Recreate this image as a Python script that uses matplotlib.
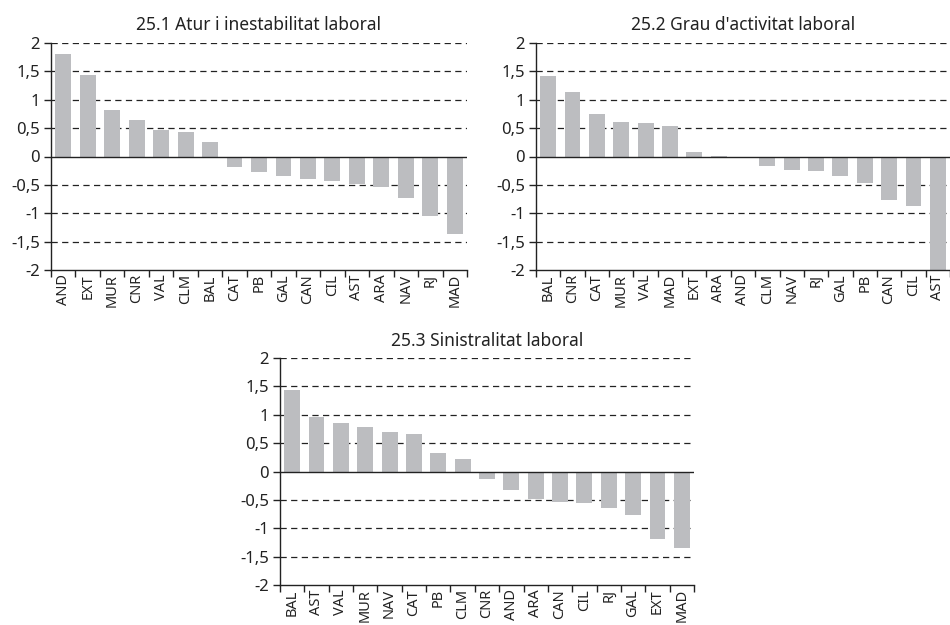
import matplotlib
matplotlib.use("Agg")
import matplotlib.pyplot as plt
import numpy as np

plt.rcParams['font.family'] = ['Noto Sans', 'DejaVu Sans']

title1 = "25.1 Atur i inestabilitat laboral"
cats1 = ["AND", "EXT", "MUR", "CNR", "VAL", "CLM", "BAL", "CAT", "PB", "GAL",
         "CAN", "CIL", "AST", "ARA", "NAV", "RJ", "MAD"]
vals1 = [1.81, 1.44, 0.82, 0.65, 0.47, 0.44, 0.26, -0.18, -0.28, -0.35,
         -0.39, -0.44, -0.48, -0.53, -0.74, -1.05, -1.36]

title2 = "25.2 Grau d'activitat laboral"
cats2 = ["BAL", "CNR", "CAT", "MUR", "VAL", "MAD", "EXT", "ARA", "AND", "CLM",
         "NAV", "RJ", "GAL", "PB", "CAN", "CIL", "AST"]
vals2 = [1.42, 1.14, 0.75, 0.61, 0.59, 0.54, 0.08, 0.005, -0.005, -0.16,
         -0.24, -0.25, -0.34, -0.46, -0.76, -0.88, -2.3]

title3 = "25.3 Sinistralitat laboral"
cats3 = ["BAL", "AST", "VAL", "MUR", "NAV", "CAT", "PB", "CLM", "CNR", "AND",
         "ARA", "CAN", "CIL", "RJ", "GAL", "EXT", "MAD"]
vals3 = [1.43, 0.96, 0.85, 0.78, 0.70, 0.66, 0.33, 0.22, -0.14, -0.32,
         -0.48, -0.53, -0.56, -0.65, -0.77, -1.19, -1.35]

yticks = [-2, -1.5, -1, -0.5, 0, 0.5, 1, 1.5, 2]
ylabels = ["-2", "-1,5", "-1", "-0,5", "0", "0,5", "1", "1,5", "2"]

W, H = 950, 625
fig = plt.figure(figsize=(9.5, 6.25), dpi=100)

def px_axes(l, t, r, b):
    return fig.add_axes([l / W, 1 - b / H, (r - l) / W, (b - t) / H])

def draw(ax, cats, vals, title):
    n = len(cats)
    x = np.arange(n)
    for g in [-1.5, -1, -0.5, 0.5, 1, 1.5, 2]:
        ax.axhline(g, color='#222222', lw=0.9, ls=(0, (5, 3.5)), zorder=1)
    ax.bar(x, vals, width=0.65, color='#bcbdc0', zorder=2)
    ax.axhline(0, color='#222222', lw=1.0, zorder=3)
    ax.set_xlim(-0.5, n - 0.5)
    ax.set_ylim(-2, 2)
    ax.set_yticks(yticks)
    ax.set_yticklabels(ylabels, fontsize=12, color='#222222')
    ax.set_xticks(x)
    ax.set_xticklabels(cats, rotation=90, fontsize=10.5, color='#222222')
    ax.tick_params(axis='x', length=0, pad=3)
    ax.set_xticks(np.arange(-0.5, n, 1.0), minor=True)
    ax.tick_params(axis='x', which='minor', length=5, width=1.0, direction='out', color='#222222')
    ax.tick_params(axis='y', length=5, width=1.0, direction='out', color='#222222', pad=3)
    for s in ['top', 'right']:
        ax.spines[s].set_visible(False)
    for s in ['left', 'bottom']:
        ax.spines[s].set_color('#222222')
        ax.spines[s].set_linewidth(1.0)
    ax.set_title(title, fontsize=12.5, color='#222222', pad=9)

ax1 = px_axes(51, 43, 467, 270)
draw(ax1, cats1, vals1, title1)
ax2 = px_axes(536, 43, 950, 270)
draw(ax2, cats2, vals2, title2)
ax3 = px_axes(280, 358, 694, 585)
draw(ax3, cats3, vals3, title3)

fig.savefig("out.png", dpi=100, facecolor='white')
